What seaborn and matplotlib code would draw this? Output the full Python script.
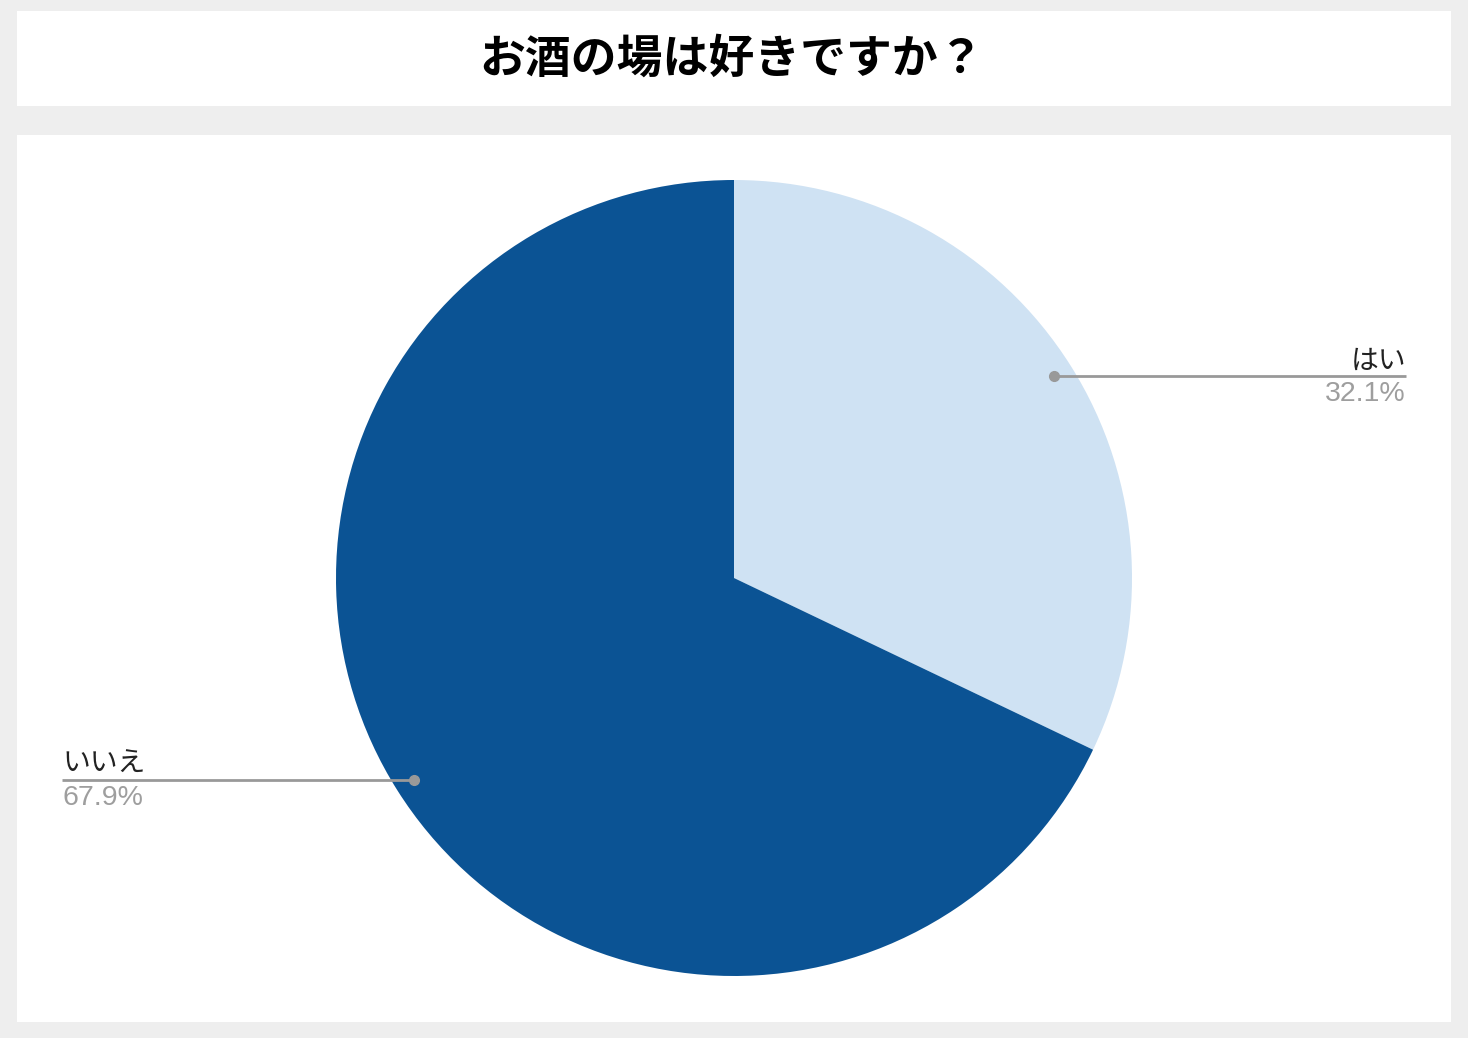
import numpy as np
import seaborn as sns
import matplotlib.pyplot as plt
from matplotlib.patches import Rectangle

# survey data
labels = ['はい', 'いいえ']
values = [32.1, 67.9]
colors = ['#cfe2f3', '#0b5394']
title = 'お酒の場は好きですか？'

sns.set_style('white')
plt.rcParams['font.family'] = ['Liberation Sans', 'Noto Sans CJK JP', 'DejaVu Sans']

W, H = 1468, 1038
fig = plt.figure(figsize=(W / 100, H / 100), dpi=100, facecolor='#eeeeee')
ax = fig.add_axes([0, 0, 1, 1])

cx, cy, r = 734, H - 578, 398
wedges, _ = ax.pie(values, colors=colors, startangle=90, counterclock=False,
                   center=(cx, cy), radius=r, wedgeprops=dict(linewidth=0))
for w in wedges:
    w.set_zorder(3)

ax.set_xlim(0, W)
ax.set_ylim(0, H)
ax.set_aspect('auto')
ax.axis('off')

# white panels
ax.add_patch(Rectangle((17, H - 106), 1434, 95, facecolor='white', edgecolor='none', zorder=1))
ax.add_patch(Rectangle((17, H - 1022), 1434, 887, facecolor='white', edgecolor='none', zorder=1))

ax.text(732, H - 60, title, ha='center', va='center', fontsize=33, fontweight='bold',
        family=['Noto Sans CJK JP', 'DejaVu Sans'], color='black', zorder=5)

# leader lines and labels
for w, lab, val in zip(wedges, labels, values):
    mid = np.deg2rad((w.theta1 + w.theta2) / 2)
    px = cx + 0.95 * r * np.cos(mid)
    py = cy + 0.95 * r * np.sin(mid)
    if np.cos(mid) > 0:
        ex, ha = 1406, 'right'
    else:
        ex, ha = 62, 'left'
    ax.plot([px, ex], [py, py], color='#999999', lw=2, zorder=4, solid_capstyle='butt')
    ax.plot(px, py, 'o', color='#999999', ms=7, zorder=5)
    ax.text(ex, py + 8, lab, ha=ha, va='baseline', fontsize=20, color='#222222', zorder=5)
    ax.text(ex, py - 5, f'{val}%', ha=ha, va='top', fontsize=20.5, color='#9e9e9e', zorder=5)

fig.savefig('out.png', dpi=100, facecolor=fig.get_facecolor())
